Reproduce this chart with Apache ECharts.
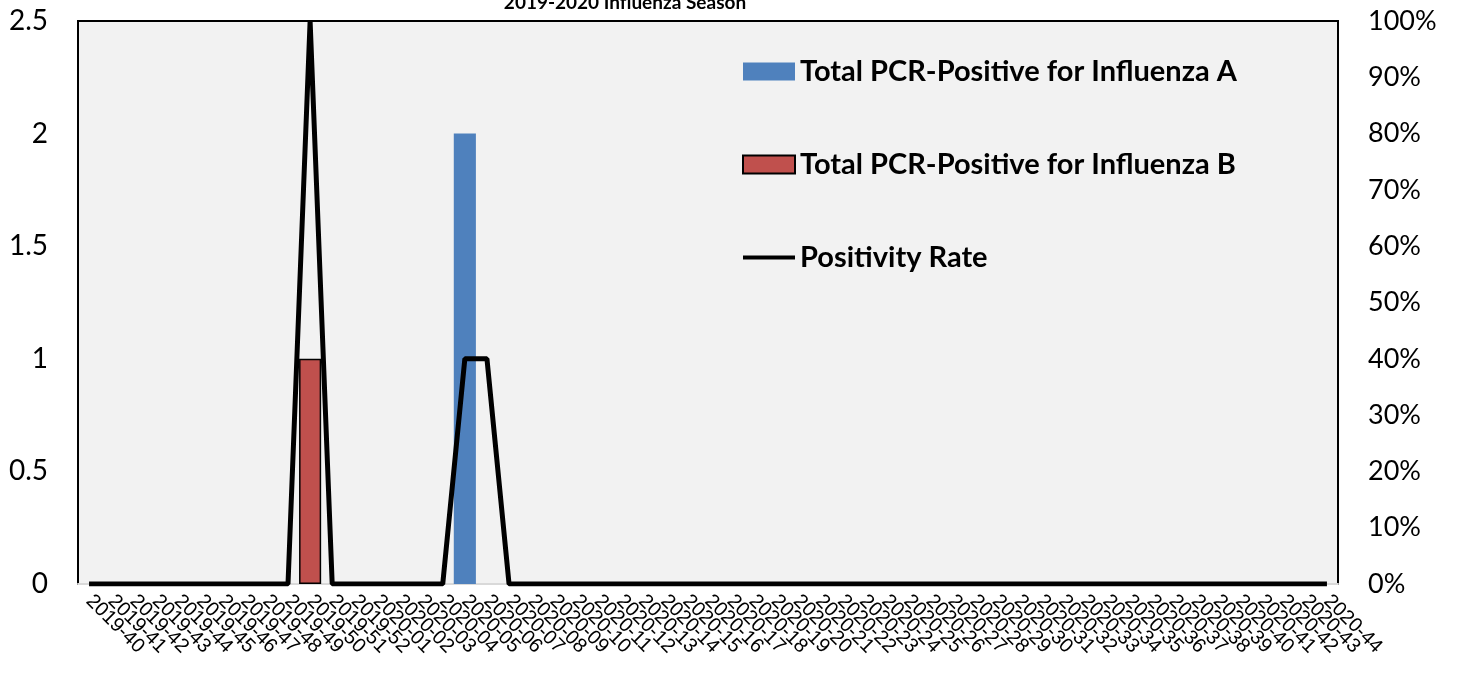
<!DOCTYPE html>
<html>
<head>
<meta charset="utf-8">
<script src="https://cdn.jsdelivr.net/npm/echarts@6/dist/echarts.min.js"></script>
<style>
  html, body { margin: 0; padding: 0; background: #fff; }
  #chart { width: 1458px; height: 675px; }
</style>
</head>
<body>
<div id="chart"></div>
<script>
  // weeks 2019-40 .. 2020-44
  const weeks = [
    '2019-40','2019-41','2019-42','2019-43','2019-44','2019-45','2019-46','2019-47','2019-48','2019-49',
    '2019-50','2019-51','2019-52','2020-01','2020-02','2020-03','2020-04','2020-05','2020-06','2020-07',
    '2020-08','2020-09','2020-10','2020-11','2020-12','2020-13','2020-14','2020-15','2020-16','2020-17',
    '2020-18','2020-19','2020-20','2020-21','2020-22','2020-23','2020-24','2020-25','2020-26','2020-27',
    '2020-28','2020-29','2020-30','2020-31','2020-32','2020-33','2020-34','2020-35','2020-36','2020-37',
    '2020-38','2020-39','2020-40','2020-41','2020-42','2020-43','2020-44'
  ]
  const fluA = [
    0,0,0,0,0,0,0,0,0,0, 0,0,0,0,0,0,0,2,0,0,
    0,0,0,0,0,0,0,0,0,0, 0,0,0,0,0,0,0,0,0,0,
    0,0,0,0,0,0,0,0,0,0, 0,0,0,0,0,0,0
  ]
  const fluB = [
    0,0,0,0,0,0,0,0,0,0, 1,0,0,0,0,0,0,0,0,0,
    0,0,0,0,0,0,0,0,0,0, 0,0,0,0,0,0,0,0,0,0,
    0,0,0,0,0,0,0,0,0,0, 0,0,0,0,0,0,0
  ]
  // positivity rate, fraction
  const posRate = [
    0,0,0,0,0,0,0,0,0,0, 1,0,0,0,0,0,0,0.4,0.4,0,
    0,0,0,0,0,0,0,0,0,0, 0,0,0,0,0,0,0,0,0,0,
    0,0,0,0,0,0,0,0,0,0, 0,0,0,0,0,0,0
  ]

  let chart = echarts.init(document.getElementById('chart'))
  let options = {
    animation: false,
    backgroundColor: '#ffffff',
    title: {
      text: '2019-2020 Influenza Season',
      left: 625,
      textAlign: 'center',
      top: -7,
      padding: 0,
      textStyle: { fontFamily: 'Lato', fontWeight: 'bold', fontSize: 19, color: '#000' }
    },
    legend: {
      orient: 'vertical',
      left: 742,
      top: 57,
      padding: 0,
      itemWidth: 52,
      itemHeight: 18,
      itemGap: 64,
      textStyle: { fontFamily: 'Lato', fontWeight: 'bold', fontSize: 29, color: '#000' },
      data: [
        { name: 'Total PCR-Positive for Influenza A', icon: 'rect' },
        { name: 'Total PCR-Positive for Influenza B', icon: 'rect' },
        // thin black bar, padded so it stays thin inside the 52x18 box
        { name: 'Positivity Rate', icon: 'path://M0,0L1,0L1,0.01ZM0,7L52,7L52,11L0,11ZM0,18L1,18L1,17.99Z' }
      ]
    },
    grid: {
      left: 78,
      right: 120,
      top: 21,
      bottom: 91,
      show: true,
      backgroundColor: '#f2f2f2',
      borderColor: '#000',
      borderWidth: 2
    },
    xAxis: [{
      type: 'category',
      data: weeks,
      axisLine: { lineStyle: { color: '#d9d9d9', width: 2 } },
      axisTick: { show: false },
      axisLabel: {
        interval: 0,
        rotate: -45,
        margin: 14,
        fontFamily: 'Liberation Sans',
        fontSize: 20,
        color: '#000'
      }
    }],
    yAxis: [{
      type: 'value',
      min: 0,
      max: 2.5,
      interval: 0.5,
      splitLine: { show: false },
      axisLine: { show: false },
      axisTick: { show: false },
      axisLabel: { margin: 30, fontFamily: 'Lato', fontSize: 28, color: '#000' }
    }, {
      type: 'value',
      min: 0,
      max: 1,
      interval: 0.1,
      position: 'right',
      splitLine: { show: false },
      axisLine: { show: false },
      axisTick: { show: false },
      axisLabel: {
        margin: 30,
        fontFamily: 'Lato',
        fontSize: 27,
        color: '#000',
        formatter: function (v) { return Math.round(v * 100) + '%' }
      }
    }],
    series: [
      {
        name: 'Total PCR-Positive for Influenza A',
        type: 'bar',
        barCategoryGap: '0%',
        barGap: '-100%',
        itemStyle: { color: '#4f81bd' },
        data: fluA.map(v => v || '-')
      },
      {
        name: 'Total PCR-Positive for Influenza B',
        type: 'bar',
        barCategoryGap: '0%',
        barGap: '-100%',
        itemStyle: { color: '#c0504d', borderColor: '#000', borderWidth: 1.5 },
        data: fluB.map(v => v || '-')
      },
      {
        name: 'Positivity Rate',
        type: 'line',
        yAxisIndex: 1,
        symbol: 'none',
        itemStyle: { color: '#000' },
        lineStyle: { color: '#000', width: 5 },
        data: posRate
      }
    ]
  }
  chart.setOption(options)
</script>
</body>
</html>
